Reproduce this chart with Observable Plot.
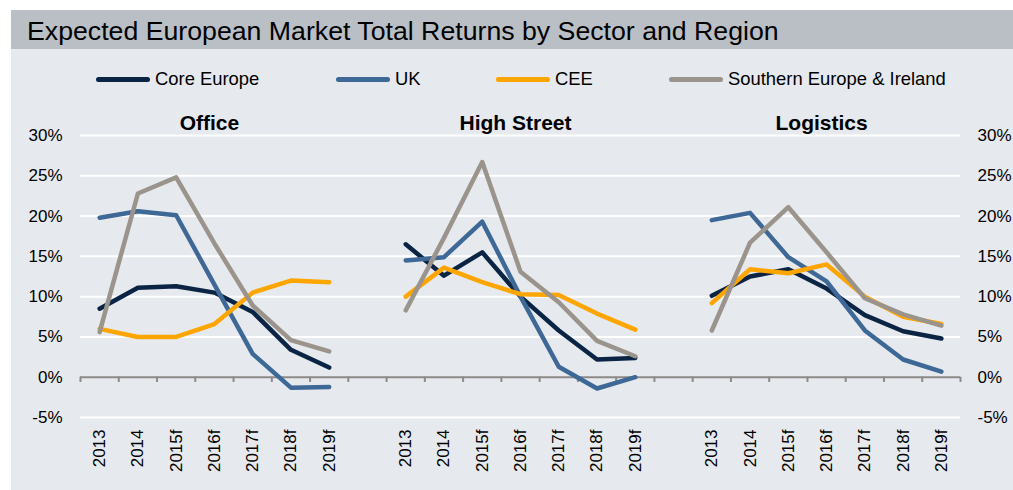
<!DOCTYPE html>
<html><head><meta charset="utf-8">
<script src="https://cdn.jsdelivr.net/npm/d3@7"></script>
<script src="https://cdn.jsdelivr.net/npm/@observablehq/plot@0.6"></script>
<style>
body{margin:0;background:#fff;font-family:"Liberation Sans",Arial,sans-serif;}
#box{position:absolute;left:11px;top:10px;width:1002px;height:480px;background:#e6e9ee;overflow:hidden}
#title{height:39px;background:#b9bfc5;font-size:26.7px;line-height:42px;padding-left:16px;color:#000;}
#legend{position:absolute;top:59px;left:85px;display:flex;align-items:center;height:20px;font-size:18.4px;color:#000}
.item{display:flex;align-items:center}
.sw{width:54px;height:5px;border-radius:3px;margin-right:5px}
#chart{position:absolute;top:90px;left:0}
</style>
</head><body>
<div id="box">
  <div id="title">Expected European Market Total Returns by Sector and Region</div>
  <div id="legend"></div>
  <div id="chart"></div>
</div>
<script>
const years = ["2013","2014","2015f","2016f","2017f","2018f","2019f"];
const sectors = ["Office","High Street","Logistics"];
const seriesNames = ["Core Europe","UK","CEE","Southern Europe & Ireland"];
const seriesColors = ["#0b2444","#3e6895","#ffa500","#9b948c"];
const yTicks = [-5,0,5,10,15,20,25,30];

// Office
const officeCore = [8.5, 11.1, 11.3, 10.5, 8.1, 3.4, 1.2];
const officeUK   = [19.8, 20.6, 20.1, 11.5, 2.9, -1.3, -1.2];
const officeCEE  = [6.0, 5.0, 5.0, 6.6, 10.5, 12.0, 11.8];
const officeSEI  = [5.6, 22.8, 24.8, 16.6, 8.9, 4.6, 3.2];
// High Street
const highCore = [16.5, 12.6, 15.5, 10.0, 5.8, 2.2, 2.4];
const highUK   = [14.5, 14.9, 19.3, 10.0, 1.3, -1.4, 0.0];
const highCEE  = [10.0, 13.6, 11.8, 10.3, 10.2, 7.9, 5.9];
const highSEI  = [8.3, 17.3, 26.7, 13.1, 9.3, 4.5, 2.6];
// Logistics
const logCore = [10.1, 12.5, 13.4, 11.0, 7.7, 5.7, 4.8];
const logUK   = [19.5, 20.4, 14.9, 11.9, 5.8, 2.2, 0.7];
const logCEE  = [9.2, 13.4, 12.9, 14.0, 10.0, 7.5, 6.6];
const logSEI  = [5.8, 16.7, 21.1, 15.5, 9.8, 7.8, 6.4];

const valuesBySector = [
  [officeCore, officeUK, officeCEE, officeSEI],
  [highCore, highUK, highCEE, highSEI],
  [logCore, logUK, logCEE, logSEI]
];

const slot = years.length + 1; // one empty category between sectors
const nCats = sectors.length * slot - 1;

const data = [];
sectors.forEach((sec, s) => {
  seriesNames.forEach((ser, k) => {
    valuesBySector[s][k].forEach((v, j) => {
      data.push({sector: sec, series: ser, year: years[j], idx: s * slot + j, value: v});
    });
  });
});
const cats = [];
sectors.forEach((sec, s) => years.forEach((y, j) => cats.push({idx: s * slot + j, year: y})));
const panels = sectors.map((sec, s) => ({name: sec, idx: s * slot + (years.length - 1) / 2}));
const boundaries = d3.range(nCats + 1);

// legend
const leg = document.getElementById("legend");
const legWidths = [240, 160, 173, 300];
seriesNames.forEach((n, i) => {
  const it = document.createElement("div");
  it.className = "item";
  it.style.width = legWidths[i] + "px";
  it.innerHTML = `<span class="sw" style="background:${seriesColors[i]}"></span><span>${n.replace("&","&amp;")}</span>`;
  leg.appendChild(it);
});

const chart = Plot.plot({
  width: 1002, height: 390,
  marginLeft: 69, marginRight: 53, marginTop: 35, marginBottom: 73,
  style: {background: "transparent", fontFamily: "'Liberation Sans', Arial, sans-serif", fontSize: "17px", color: "#000", overflow: "visible"},
  x: {domain: [0, nCats], axis: null},
  y: {domain: [-5, 30], axis: null},
  color: {domain: seriesNames, range: seriesColors},
  marks: [
    Plot.ruleY(yTicks.filter(d => d !== 0), {stroke: "#ffffff", strokeWidth: 2}),
    Plot.ruleY([0], {stroke: "#8e8a87", strokeWidth: 2}),
    Plot.ruleX(boundaries, {x: d => d, y1: 0, y2: -0.65, stroke: "#8e8a87", strokeWidth: 2}),
    Plot.axisY({anchor: "left", ticks: yTicks, tickSize: 0, tickPadding: 18, tickFormat: d => d + "%", fontSize: 17, label: null}),
    Plot.axisY({anchor: "right", ticks: yTicks, tickSize: 0, tickPadding: 17, tickFormat: d => d + "%", fontSize: 17, label: null}),
    Plot.text(cats, {x: d => d.idx + 0.5, frameAnchor: "bottom", text: "year", rotate: -90, textAnchor: "end", lineAnchor: "middle", dy: 12, fontSize: 17}),
    Plot.text(panels, {x: d => d.idx + 0.5, y: () => 30, text: "name", fontWeight: "bold", fontSize: 21, dy: -12, dx: -5}),
    Plot.line(data, {x: d => d.idx + 0.5, y: "value", z: d => d.sector + "|" + d.series, stroke: "series", strokeWidth: 4.5, strokeLinejoin: "round", strokeLinecap: "round"})
  ]
});
document.getElementById("chart").appendChild(chart);
</script>
</body></html>
